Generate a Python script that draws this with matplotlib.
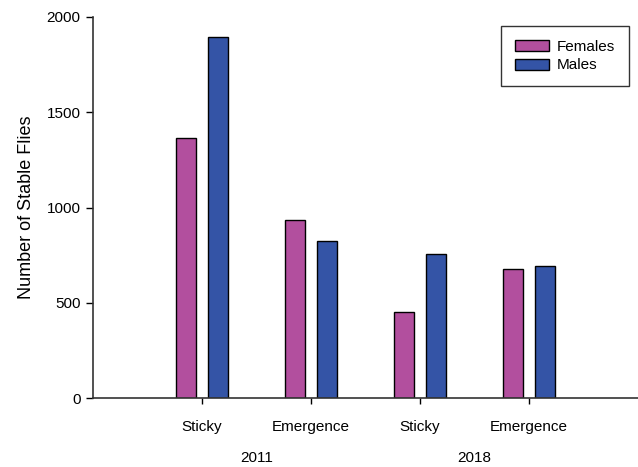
import matplotlib.pyplot as plt
import numpy as np

plt.rcParams['font.family'] = ['Liberation Sans', 'DejaVu Sans']

methods = ["Sticky", "Emergence", "Sticky", "Emergence"]
years = ["2011", "2018"]
females = [1363, 933, 453, 677]
males = [1897, 826, 754, 691]

female_color = "#B24F9E"
male_color = "#3454A6"

fig = plt.figure(figsize=(6.38, 4.67), dpi=100)
ax = fig.add_axes([93 / 638, 1 - 398 / 467, 545 / 638, 381 / 467])

x = np.arange(len(methods))
w = 0.185
ax.bar(x - 0.15, females, w, color=female_color, edgecolor="black", linewidth=1.0, label="Females")
ax.bar(x + 0.15, males, w, color=male_color, edgecolor="black", linewidth=1.0, label="Males")

ax.set_xlim(-1.0, 4.0)
ax.set_ylim(0, 2000)
ax.set_yticks([0, 500, 1000, 1500, 2000])
ax.set_xticks(x)
ax.set_xticklabels(methods, fontsize=11)
ax.tick_params(axis="y", labelsize=11, length=5, width=1, direction="out", pad=4)
ax.tick_params(axis="x", length=4, width=1, direction="out", pad=12)

for side in ["top", "right"]:
    ax.spines[side].set_visible(False)
for side in ["left", "bottom"]:
    ax.spines[side].set_linewidth(1.2)
    ax.spines[side].set_color("#333333")

ax.set_ylabel("Number of Stable Flies", fontsize=13, labelpad=8)

# year labels centred under each pair of methods
for i, yr in enumerate(years):
    ax.text(2 * i + 0.5, -315, yr, ha="center", va="center", fontsize=11,
            transform=ax.transData, clip_on=False)

leg = ax.legend(loc="upper right", bbox_to_anchor=(0.9835, 0.976), borderaxespad=0,
                fontsize=11, frameon=True, fancybox=False, edgecolor="black",
                handlelength=2.2, handleheight=0.75, labelspacing=0.3,
                borderpad=0.9, handletextpad=0.55)
leg.get_frame().set_linewidth(1.0)

fig.savefig("out.png", dpi=100)
